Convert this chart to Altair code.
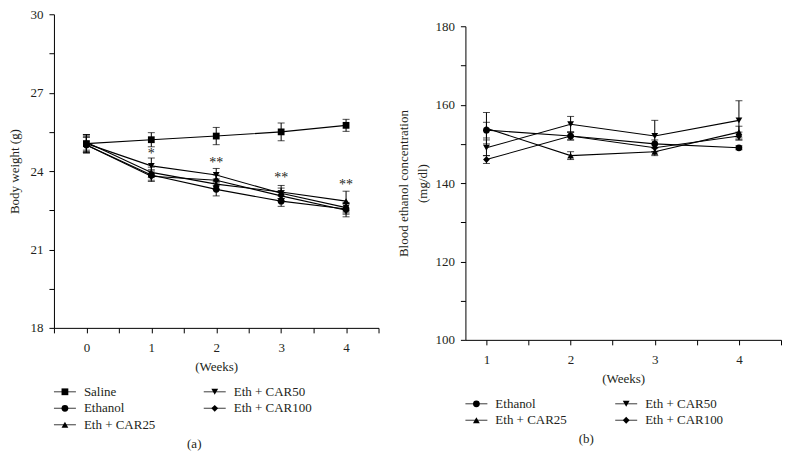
import altair as alt
import pandas as pd

FONT = "Liberation Serif"
TXT = "#231f20"

# ---------------- Panel (a): body weight ----------------
weeks_a = [0, 1, 2, 3, 4]
series_a = ["Saline", "Ethanol", "Eth + CAR25", "Eth + CAR50", "Eth + CAR100"]
saline_a = [25.05, 25.20, 25.34, 25.50, 25.75]
ethanol_a = [25.00, 23.85, 23.30, 22.85, 22.55]
car25_a = [25.10, 23.95, 23.50, 23.20, 22.85]
car50_a = [25.05, 24.20, 23.85, 23.15, 22.60]
car100_a = [25.00, 23.80, 23.65, 23.05, 22.50]
saline_err = [0.35, 0.27, 0.33, 0.34, 0.23]
ethanol_err = [0.30, 0.20, 0.25, 0.20, 0.20]
car25_err = [0.30, 0.20, 0.20, 0.25, 0.38]
car50_err = [0.30, 0.30, 0.25, 0.20, 0.20]
car100_err = [0.30, 0.20, 0.20, 0.20, 0.25]
star_weeks = [1, 2, 3, 4]
star_labels = ["*", "**", "**", "**"]
star_y = [24.65, 24.32, 23.72, 23.48]

# ---------------- Panel (b): blood ethanol ----------------
weeks_b = [1, 2, 3, 4]
series_b = ["Ethanol", "Eth + CAR25", "Eth + CAR50", "Eth + CAR100"]
ethanol_b = [153.5, 152.0, 150.0, 149.0]
car25_b = [154.0, 147.0, 148.0, 153.0]
car50_b = [149.0, 155.0, 152.0, 156.0]
car100_b = [146.0, 152.0, 149.0, 152.0]
ethanol_berr = [2.0, 1.0, 1.0, 0.5]
car25_berr = [4.0, 1.0, 1.0, 1.5]
car50_berr = [2.0, 2.0, 4.0, 5.0]
car100_berr = [1.0, 1.0, 1.0, 1.0]

shape_domain = ["Saline", "Ethanol", "Eth + CAR25", "Eth + CAR50", "Eth + CAR100"]
shape_range = ["square", "circle", "triangle-up", "triangle-down", "diamond"]


def long_df(weeks, names, values, errs):
    rows = []
    for n, vals, es in zip(names, values, errs):
        for w, v, e in zip(weeks, vals, es):
            rows.append({"week": w, "series": n, "value": v, "lo": v - e, "hi": v + e})
    return pd.DataFrame(rows)


df_a = long_df(weeks_a, series_a,
               [saline_a, ethanol_a, car25_a, car50_a, car100_a],
               [saline_err, ethanol_err, car25_err, car50_err, car100_err])
df_b = long_df(weeks_b, series_b,
               [ethanol_b, car25_b, car50_b, car100_b],
               [ethanol_berr, car25_berr, car50_berr, car100_berr])
df_star = pd.DataFrame({"week": star_weeks, "label": star_labels, "value": star_y})

shape_scale = alt.Scale(domain=shape_domain, range=shape_range)
MSIZE = 46


def panel(df, xdom, xvals, ydom, yvals, ylab_every, ytitle, width, height, ytitle_pad, extra=None):
    xs = alt.Scale(domain=xdom, nice=False, zero=False)
    ys = alt.Scale(domain=ydom, nice=False, zero=False)
    xax = alt.Axis(values=xvals, title="(Weeks)", format=".1f",
                   labelExpr="floor(datum.value) == datum.value ? format(datum.value, 'd') : ''")
    yax = alt.Axis(values=yvals, title=ytitle, format=".1f", titlePadding=ytitle_pad,
                   labelExpr=f"datum.value % {ylab_every} == 0 ? format(datum.value, 'd') : ''")
    x = alt.X("week:Q", scale=xs, axis=xax)
    y = alt.Y("value:Q", scale=ys, axis=yax)
    ylo = alt.Y("lo:Q", scale=ys, axis=yax)
    yhi = alt.Y("hi:Q", scale=ys, axis=yax)
    base = alt.Chart(df)
    lines = base.mark_line(color="black", strokeWidth=1.1).encode(x=x, y=y, detail="series:N")
    rules = base.mark_rule(color="black", strokeWidth=1).encode(x=x, y=ylo, y2="hi:Q")
    cap_lo = base.mark_tick(color="black", orient="horizontal", size=7, thickness=1).encode(x=x, y=ylo)
    cap_hi = base.mark_tick(color="black", orient="horizontal", size=7, thickness=1).encode(x=x, y=yhi)
    pts = base.mark_point(filled=True, color="black", size=MSIZE, opacity=1).encode(
        x=x, y=y, shape=alt.Shape("series:N", scale=shape_scale, legend=None))
    layers = [lines, rules, cap_lo, cap_hi, pts]
    if extra is not None:
        layers.append(extra(x, y))
    return alt.layer(*layers).properties(width=width, height=height)


def stars(x, y):
    return alt.Chart(df_star).mark_text(font=FONT, fontSize=14, color=TXT,
                                        baseline="middle").encode(x=x, y=y, text="label:N")


GAP = 64  # space between plot bottom and first legend row


def legend_chart(names, cols, rows, nrows, width, caption, cap_dx):
    ldf = pd.DataFrame({"series": names, "col": cols, "row": rows})
    lx = alt.X("col:Q", scale=alt.Scale(domain=[0, 1], range=[0, 150]), axis=None)
    ly = alt.Y("row:Q", scale=alt.Scale(domain=[0, 1], range=[GAP, GAP + 16.5]), axis=None)
    b = alt.Chart(ldf)
    ln = b.mark_tick(color="black", orient="horizontal", size=22, thickness=1.1, xOffset=11).encode(x=lx, y=ly)
    pt = b.mark_point(filled=True, color="black", size=MSIZE, opacity=1, xOffset=11).encode(
        x=lx, y=ly, shape=alt.Shape("series:N", scale=shape_scale, legend=None))
    tx = b.mark_text(font=FONT, fontSize=13, color=TXT, align="left", baseline="middle", dx=30).encode(
        x=lx, y=ly, text="series:N")
    return alt.layer(ln, pt, tx).properties(
        width=width, height=GAP + 16.5 * (nrows - 1),
        title=alt.TitleParams(caption, orient="bottom", anchor="middle", dx=cap_dx, offset=6,
                              font=FONT, fontSize=13, fontWeight="normal", color=TXT))


plot_a = panel(df_a, [-0.5, 4.5], [-0.5 + 0.5 * i for i in range(11)],
               [18, 30], [18 + 1.5 * i for i in range(9)], 3, "Body weight (g)", 325, 314, 8,
               extra=stars)
leg_a = legend_chart(series_a, [0, 0, 0, 1, 1], [0, 1, 2, 0, 1], 3, 325, "(a)", -22)

plot_b = panel(df_b, [0.75, 4.5], [1 + 0.5 * i for i in range(8)],
               [100, 180], [100 + 10 * i for i in range(9)], 20,
               ["Blood ethanol concentration", "(mg/dl)"], 316, 314, 5)
leg_b = legend_chart(series_b, [0, 0, 1, 1], [0, 1, 0, 1], 2, 316, "(b)", -37)

spacer = alt.Chart(pd.DataFrame({"v": [0]})).mark_point(opacity=0).encode(
    x=alt.X("v:Q", axis=None), y=alt.Y("v:Q", axis=None)).properties(width=316, height=12)

col_a = alt.vconcat(plot_a, leg_a, spacing=0, bounds="flush")
col_b = alt.vconcat(spacer, plot_b, leg_b, spacing=0, bounds="flush")

chart = alt.hconcat(col_a, col_b, spacing=18).properties(
    padding={"left": 1, "top": 0, "right": 0, "bottom": 0}
).configure_view(stroke=None).configure_axis(
    grid=False, domainColor="black", domainWidth=1, tickColor="black", tickWidth=1, tickSize=5,
    labelFont=FONT, labelFontSize=13, labelColor=TXT, titleFont=FONT, titleFontSize=13,
    titleFontWeight="normal", titleColor=TXT, labelPadding=6, titlePadding=6,
    titleLineHeight=19, labelFlush=False, labelOverlap=False
).configure_axisX(labelPadding=9, titlePadding=6)

chart.save("out.html", embed_options={"renderer": "svg", "actions": False})
